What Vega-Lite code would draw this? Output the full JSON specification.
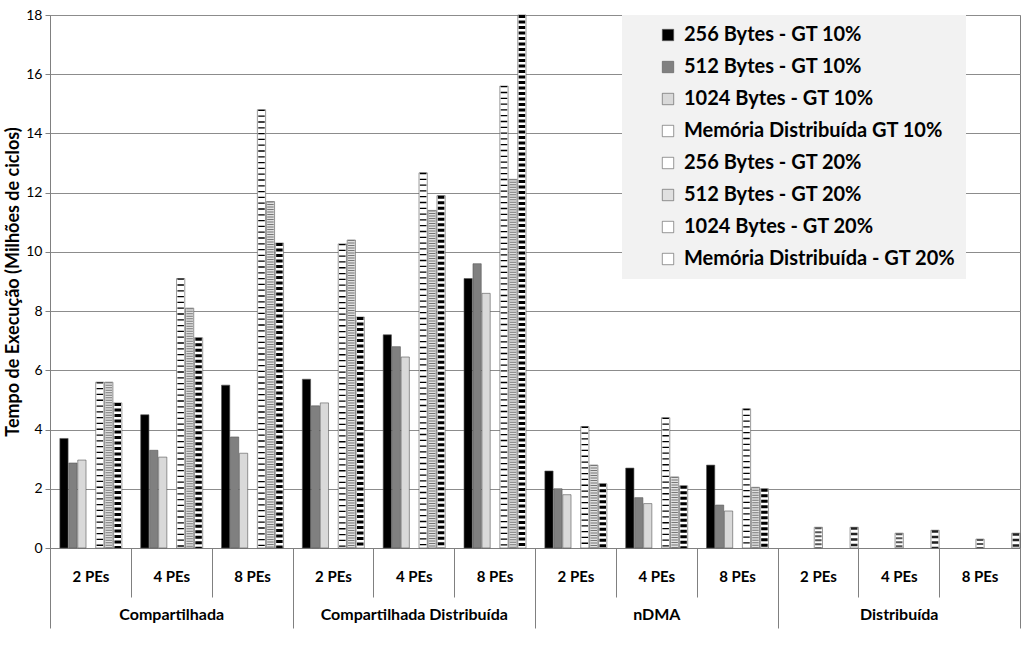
{
  "$schema": "https://vega.github.io/schema/vega-lite/v6.json",
  "width": 970,
  "height": 533,
  "autosize": {"type": "none"},
  "padding": {"left": 50, "top": 15, "right": 4, "bottom": 109},
  "background": "white",
  "config": {
    "font": "Lato",
    "view": {"stroke": "#808080", "strokeWidth": 1},
    "axis": {"labelColor": "black", "titleColor": "black", "domainColor": "#808080", "tickColor": "#808080"}
  },
  "datasets": {
    "main": [
      {"cat": "Compartilhada|2 PEs", "s": "256 Bytes - GT 10%", "v": 3.7},
      {"cat": "Compartilhada|2 PEs", "s": "512 Bytes - GT 10%", "v": 2.87},
      {"cat": "Compartilhada|2 PEs", "s": "1024 Bytes - GT 10%", "v": 2.97},
      {"cat": "Compartilhada|2 PEs", "s": "256 Bytes - GT 20%", "v": 5.6},
      {"cat": "Compartilhada|2 PEs", "s": "512 Bytes - GT 20%", "v": 5.6},
      {"cat": "Compartilhada|2 PEs", "s": "1024 Bytes - GT 20%", "v": 4.9},
      {"cat": "Compartilhada|4 PEs", "s": "256 Bytes - GT 10%", "v": 4.5},
      {"cat": "Compartilhada|4 PEs", "s": "512 Bytes - GT 10%", "v": 3.3},
      {"cat": "Compartilhada|4 PEs", "s": "1024 Bytes - GT 10%", "v": 3.07},
      {"cat": "Compartilhada|4 PEs", "s": "256 Bytes - GT 20%", "v": 9.1},
      {"cat": "Compartilhada|4 PEs", "s": "512 Bytes - GT 20%", "v": 8.1},
      {"cat": "Compartilhada|4 PEs", "s": "1024 Bytes - GT 20%", "v": 7.1},
      {"cat": "Compartilhada|8 PEs", "s": "256 Bytes - GT 10%", "v": 5.5},
      {"cat": "Compartilhada|8 PEs", "s": "512 Bytes - GT 10%", "v": 3.75},
      {"cat": "Compartilhada|8 PEs", "s": "1024 Bytes - GT 10%", "v": 3.2},
      {"cat": "Compartilhada|8 PEs", "s": "256 Bytes - GT 20%", "v": 14.8},
      {"cat": "Compartilhada|8 PEs", "s": "512 Bytes - GT 20%", "v": 11.7},
      {"cat": "Compartilhada|8 PEs", "s": "1024 Bytes - GT 20%", "v": 10.3},
      {"cat": "Compartilhada Distribuída|2 PEs", "s": "256 Bytes - GT 10%", "v": 5.7},
      {"cat": "Compartilhada Distribuída|2 PEs", "s": "512 Bytes - GT 10%", "v": 4.8},
      {"cat": "Compartilhada Distribuída|2 PEs", "s": "1024 Bytes - GT 10%", "v": 4.9},
      {"cat": "Compartilhada Distribuída|2 PEs", "s": "256 Bytes - GT 20%", "v": 10.27},
      {"cat": "Compartilhada Distribuída|2 PEs", "s": "512 Bytes - GT 20%", "v": 10.4},
      {"cat": "Compartilhada Distribuída|2 PEs", "s": "1024 Bytes - GT 20%", "v": 7.8},
      {"cat": "Compartilhada Distribuída|4 PEs", "s": "256 Bytes - GT 10%", "v": 7.2},
      {"cat": "Compartilhada Distribuída|4 PEs", "s": "512 Bytes - GT 10%", "v": 6.8},
      {"cat": "Compartilhada Distribuída|4 PEs", "s": "1024 Bytes - GT 10%", "v": 6.45},
      {"cat": "Compartilhada Distribuída|4 PEs", "s": "256 Bytes - GT 20%", "v": 12.67},
      {"cat": "Compartilhada Distribuída|4 PEs", "s": "512 Bytes - GT 20%", "v": 11.4},
      {"cat": "Compartilhada Distribuída|4 PEs", "s": "1024 Bytes - GT 20%", "v": 11.9},
      {"cat": "Compartilhada Distribuída|8 PEs", "s": "256 Bytes - GT 10%", "v": 9.1},
      {"cat": "Compartilhada Distribuída|8 PEs", "s": "512 Bytes - GT 10%", "v": 9.6},
      {"cat": "Compartilhada Distribuída|8 PEs", "s": "1024 Bytes - GT 10%", "v": 8.6},
      {"cat": "Compartilhada Distribuída|8 PEs", "s": "256 Bytes - GT 20%", "v": 15.6},
      {"cat": "Compartilhada Distribuída|8 PEs", "s": "512 Bytes - GT 20%", "v": 12.45},
      {"cat": "Compartilhada Distribuída|8 PEs", "s": "1024 Bytes - GT 20%", "v": 18.0},
      {"cat": "nDMA|2 PEs", "s": "256 Bytes - GT 10%", "v": 2.6},
      {"cat": "nDMA|2 PEs", "s": "512 Bytes - GT 10%", "v": 2.0},
      {"cat": "nDMA|2 PEs", "s": "1024 Bytes - GT 10%", "v": 1.8},
      {"cat": "nDMA|2 PEs", "s": "256 Bytes - GT 20%", "v": 4.1},
      {"cat": "nDMA|2 PEs", "s": "512 Bytes - GT 20%", "v": 2.8},
      {"cat": "nDMA|2 PEs", "s": "1024 Bytes - GT 20%", "v": 2.17},
      {"cat": "nDMA|4 PEs", "s": "256 Bytes - GT 10%", "v": 2.7},
      {"cat": "nDMA|4 PEs", "s": "512 Bytes - GT 10%", "v": 1.7},
      {"cat": "nDMA|4 PEs", "s": "1024 Bytes - GT 10%", "v": 1.5},
      {"cat": "nDMA|4 PEs", "s": "256 Bytes - GT 20%", "v": 4.4},
      {"cat": "nDMA|4 PEs", "s": "512 Bytes - GT 20%", "v": 2.4},
      {"cat": "nDMA|4 PEs", "s": "1024 Bytes - GT 20%", "v": 2.1},
      {"cat": "nDMA|8 PEs", "s": "256 Bytes - GT 10%", "v": 2.8},
      {"cat": "nDMA|8 PEs", "s": "512 Bytes - GT 10%", "v": 1.45},
      {"cat": "nDMA|8 PEs", "s": "1024 Bytes - GT 10%", "v": 1.25},
      {"cat": "nDMA|8 PEs", "s": "256 Bytes - GT 20%", "v": 4.7},
      {"cat": "nDMA|8 PEs", "s": "512 Bytes - GT 20%", "v": 2.05},
      {"cat": "nDMA|8 PEs", "s": "1024 Bytes - GT 20%", "v": 2.0},
      {"cat": "Distribuída|2 PEs", "s": "Memória Distribuída GT 10%", "v": 0.7},
      {"cat": "Distribuída|2 PEs", "s": "Memória Distribuída - GT 20%", "v": 0.7},
      {"cat": "Distribuída|4 PEs", "s": "Memória Distribuída GT 10%", "v": 0.5},
      {"cat": "Distribuída|4 PEs", "s": "Memória Distribuída - GT 20%", "v": 0.6},
      {"cat": "Distribuída|8 PEs", "s": "Memória Distribuída GT 10%", "v": 0.3},
      {"cat": "Distribuída|8 PEs", "s": "Memória Distribuída - GT 20%", "v": 0.5}
    ],
    "groups": [
      {"g": "Compartilhada"},
      {"g": "Compartilhada Distribuída"},
      {"g": "nDMA"},
      {"g": "Distribuída"}
    ]
  },
  "layer": [
    {
      "data": {"name": "main"},
      "encoding": {
        "x": {
          "field": "cat", "type": "nominal", "sort": null,
          "scale": {
            "domain": ["Compartilhada|2 PEs", "Compartilhada|4 PEs", "Compartilhada|8 PEs", "Compartilhada Distribuída|2 PEs", "Compartilhada Distribuída|4 PEs", "Compartilhada Distribuída|8 PEs", "nDMA|2 PEs", "nDMA|4 PEs", "nDMA|8 PEs", "Distribuída|2 PEs", "Distribuída|4 PEs", "Distribuída|8 PEs"],
            "paddingInner": 0, "paddingOuter": 0
          },
          "axis": {
            "title": null, "labelExpr": "split(datum.label, '|')[1]", "labelAngle": 0,
            "tickBand": "extent", "tickSize": 49, "labelPadding": -28,
            "labelFontSize": 15, "labelFontWeight": "bold", "labelBaseline": "top"
          }
        },
        "xOffset": {
          "field": "s", "type": "nominal",
          "scale": {
            "domain": ["256 Bytes - GT 10%", "512 Bytes - GT 10%", "1024 Bytes - GT 10%", "Memória Distribuída GT 10%", "256 Bytes - GT 20%", "512 Bytes - GT 20%", "1024 Bytes - GT 20%", "Memória Distribuída - GT 20%"],
            "paddingInner": 0.08, "paddingOuter": 0.55, "align": 1
          }
        },
        "y": {
          "field": "v", "type": "quantitative",
          "scale": {"domain": [0, 18], "nice": false},
          "axis": {
            "title": "Tempo de Execução (Milhões de ciclos)",
            "values": [0, 2, 4, 6, 8, 10, 12, 14, 16, 18],
            "titleFontSize": 18, "titleFontWeight": "bold", "titlePadding": 3,
            "labelFontSize": 14, "tickSize": 5, "labelPadding": 3,
            "gridColor": "#8c8c8c", "gridWidth": 1
          }
        }
      },
      "layer": [
        {
          "mark": {"type": "bar", "stroke": "#555555", "strokeWidth": 0.6},
          "encoding": {
            "color": {
              "field": "s", "type": "nominal",
              "scale": {
                "domain": ["256 Bytes - GT 10%", "512 Bytes - GT 10%", "1024 Bytes - GT 10%", "Memória Distribuída GT 10%", "256 Bytes - GT 20%", "512 Bytes - GT 20%", "1024 Bytes - GT 20%", "Memória Distribuída - GT 20%"],
                "range": ["#000000", "#808080", "#d9d9d9", "#ffffff", "#ffffff", "#e0e0e0", "#ffffff", "#ffffff"]
              },
              "legend": {
                "title": null, "orient": "none", "legendX": 572, "legendY": 0,
                "fillColor": "#f2f2f2", "padding": 10, "symbolOffset": 26,
                "symbolType": "square", "symbolSize": 130,
                "symbolStrokeColor": "#555555", "symbolStrokeWidth": 0.6,
                "labelFontSize": 20, "labelFontWeight": "bold", "labelColor": "black",
                "rowPadding": 12, "labelLimit": 400, "labelOffset": 6
              }
            }
          }
        },
        {
          "transform": [{"filter": {"field": "s", "oneOf": ["Memória Distribuída GT 10%", "256 Bytes - GT 20%", "512 Bytes - GT 20%", "1024 Bytes - GT 20%", "Memória Distribuída - GT 20%"]}}],
          "mark": {"type": "rule", "strokeWidth": 6.5, "strokeCap": "butt"},
          "encoding": {
            "y2": {"datum": 0},
            "stroke": {
              "field": "s", "type": "nominal",
              "scale": {
                "domain": ["Memória Distribuída GT 10%", "256 Bytes - GT 20%", "512 Bytes - GT 20%", "1024 Bytes - GT 20%", "Memória Distribuída - GT 20%"],
                "range": ["#555555", "#000000", "#777777", "#000000", "#222222"]
              },
              "legend": null
            },
            "strokeDash": {
              "field": "s", "type": "nominal",
              "scale": {
                "domain": ["Memória Distribuída GT 10%", "256 Bytes - GT 20%", "512 Bytes - GT 20%", "1024 Bytes - GT 20%", "Memória Distribuída - GT 20%"],
                "range": [[2, 2], [1.3, 4.5], [1, 1.5], [3, 2.5], [2.5, 3]]
              },
              "legend": null
            }
          }
        }
      ]
    },
    {
      "data": {"name": "groups"},
      "mark": {"type": "rule", "opacity": 0},
      "encoding": {
        "x": {
          "field": "g", "type": "nominal", "sort": null,
          "scale": {"domain": ["Compartilhada", "Compartilhada Distribuída", "nDMA", "Distribuída"], "paddingInner": 0, "paddingOuter": 0},
          "axis": {
            "orient": "bottom", "title": null, "labelAngle": 0,
            "tickBand": "extent", "tickSize": 80, "labelPadding": -22, "labelLimit": 400,
            "labelFontSize": 16, "labelFontWeight": "bold", "labelBaseline": "top"
          }
        }
      }
    }
  ],
  "resolve": {"scale": {"x": "independent"}, "axis": {"x": "independent"}}
}
